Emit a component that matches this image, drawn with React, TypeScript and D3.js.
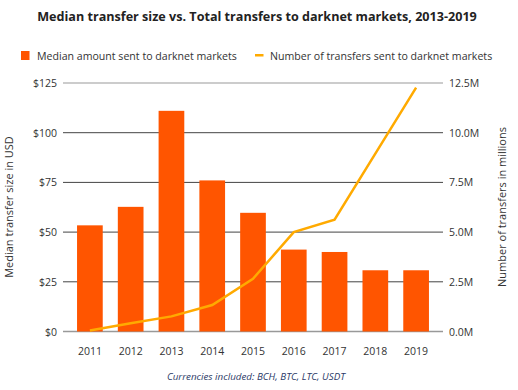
import React, { useRef, useEffect } from "react";
import * as d3 from "d3";

const years = ["2011", "2012", "2013", "2014", "2015", "2016", "2017", "2018", "2019"];
const medianUsd = [53.4, 62.7, 111, 76, 59.7, 41.2, 40, 30.8, 30.8];
const transfersM = [0.05, 0.42, 0.76, 1.33, 2.65, 5.0, 5.63, 8.95, 12.27];
const leftTicks = [0, 25, 50, 75, 100, 125];
const rightTicks = [0, 2.5, 5, 7.5, 10, 12.5];

const W = 518;
const H = 390;
const FONT = "'Open Sans', sans-serif";

const App: React.FC = () => {
  const svgRef = useRef<SVGSVGElement | null>(null);

  useEffect(() => {
    if (!svgRef.current) return;
    const svg = d3.select(svgRef.current);
    svg.selectAll("*").remove();

    const gridL = 63, gridR = 443;
    const top = 83, bottom = 331.5;

    const x = d3.scaleBand<string>().domain(years).range([69.5, 436.5])
      .paddingInner(0.37).paddingOuter(0.185);
    const yL = d3.scaleLinear().domain([0, 125]).range([bottom, top]);
    const yR = d3.scaleLinear().domain([0, 12.5]).range([bottom, top]);

    // title
    svg.append("text")
      .attr("x", 257).attr("y", 21)
      .attr("text-anchor", "middle")
      .attr("font-family", FONT).attr("font-weight", 700).attr("font-size", 12.6)
      .attr("fill", "#222")
      .text("Median transfer size vs. Total transfers to darknet markets, 2013-2019");

    // legend
    const lg = svg.append("g").attr("font-family", FONT).attr("font-size", 10.6).attr("fill", "#333");
    lg.append("rect").attr("x", 21).attr("y", 51).attr("width", 8.5).attr("height", 9).attr("fill", "#ff5500");
    lg.append("text").attr("x", 37).attr("y", 59.5).text("Median amount sent to darknet markets");
    lg.append("rect").attr("x", 255).attr("y", 54).attr("width", 8.5).attr("height", 2.5).attr("fill", "#ffaa00");
    lg.append("text").attr("x", 270).attr("y", 59.5).text("Number of transfers sent to darknet markets");

    // gridlines
    svg.append("g").selectAll("line").data(leftTicks).enter().append("line")
      .attr("x1", gridL).attr("x2", gridR)
      .attr("y1", d => yL(d)).attr("y2", d => yL(d))
      .attr("stroke", d => (d === 0 || d === 125 ? "#999" : "#444"))
      .attr("stroke-width", d => (d === 0 ? 1.5 : 1));

    // left axis labels
    svg.append("g").selectAll("text").data(leftTicks).enter().append("text")
      .attr("x", 57).attr("y", d => yL(d) + 4)
      .attr("text-anchor", "end")
      .attr("font-family", FONT).attr("font-size", 10.5).attr("fill", "#333")
      .text(d => `$${d}`);

    // right axis labels
    svg.append("g").selectAll("text").data(rightTicks).enter().append("text")
      .attr("x", 449).attr("y", d => yR(d) + 4)
      .attr("font-family", FONT).attr("font-size", 10.5).attr("fill", "#333")
      .text(d => `${d.toFixed(1)}M`);

    // axis titles
    svg.append("text")
      .attr("transform", `translate(13,207) rotate(-90)`)
      .attr("text-anchor", "middle")
      .attr("font-family", FONT).attr("font-size", 11).attr("fill", "#333")
      .text("Median transfer size in USD");
    svg.append("text")
      .attr("transform", `translate(506,207) rotate(-90)`)
      .attr("text-anchor", "middle")
      .attr("font-family", FONT).attr("font-size", 11).attr("fill", "#333")
      .text("Number of transfers in millions");

    // bars
    svg.append("g").selectAll("rect").data(years).enter().append("rect")
      .attr("x", d => x(d)!)
      .attr("width", x.bandwidth())
      .attr("y", (d, i) => yL(medianUsd[i]))
      .attr("height", (d, i) => bottom - yL(medianUsd[i]))
      .attr("fill", "#ff5500");

    // line
    const line = d3.line<number>()
      .x((d, i) => x(years[i])! + x.bandwidth() / 2)
      .y(d => yR(d));
    svg.append("path")
      .datum(transfersM)
      .attr("d", line)
      .attr("fill", "none")
      .attr("stroke", "#ffaa00")
      .attr("stroke-width", 2.5);

    // x labels
    svg.append("g").selectAll("text").data(years).enter().append("text")
      .attr("x", d => x(d)! + x.bandwidth() / 2)
      .attr("y", 355)
      .attr("text-anchor", "middle")
      .attr("font-family", FONT).attr("font-size", 10.5).attr("fill", "#333")
      .text(d => d);

    // footnote
    svg.append("text")
      .attr("x", 256).attr("y", 380)
      .attr("text-anchor", "middle")
      .attr("font-family", FONT).attr("font-size", 9.8).attr("font-style", "italic")
      .attr("fill", "#2b3a67")
      .text("Currencies included: BCH, BTC, LTC, USDT");
  }, []);

  return (
    <svg
      ref={svgRef}
      width={W}
      height={H}
      style={{ position: "absolute", left: 0, top: 0, background: "#fff" }}
    ></svg>
  );
};

export default App;
